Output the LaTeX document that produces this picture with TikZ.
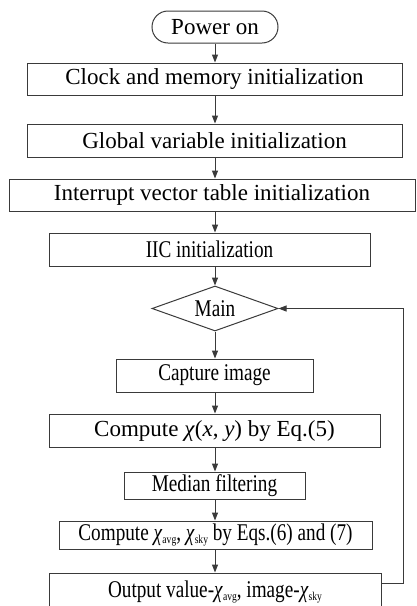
\documentclass[tikz,border=0pt]{standalone}
\usepackage{fontspec}
\setmainfont{Liberation Serif}
\newfontfamily\narrowfont{Liberation Serif}[FakeStretch=0.8]
\definecolor{lineclr}{HTML}{3A3A3A}
\usetikzlibrary{arrows.meta,positioning,shapes.geometric}
\newcommand{\chisub}[1]{\textit{χ}\raisebox{-3.5pt}{\fontsize{12}{12}\selectfont #1}}

\begin{document}
\begin{tikzpicture}[x=1pt, y=-1pt, >={Triangle[length=8pt,width=6pt]},
    font=\fontsize{23}{27}\selectfont,
    proc/.style={draw=lineclr, line width=1pt, inner sep=0pt, minimum height=33pt},
    narrow/.style={proc, font=\narrowfont\fontsize{24}{28}\selectfont},
    terminal/.style={proc, rounded corners=16pt, minimum height=32pt},
    decision/.style={draw=lineclr, line width=1pt, diamond, inner sep=0pt, aspect=2.8,
                     minimum width=126pt, minimum height=45pt,
                     font=\narrowfont\fontsize{24}{28}\selectfont},
    arrow/.style={->, draw=lineclr, line width=1pt}]

  \useasboundingbox (0,0) rectangle (416,606);

  \node[terminal, minimum width=126pt] (power) at (215,27) {Power on};
  \node[proc, minimum width=375pt, minimum height=32pt] (clock) at (214.5,79) {Clock and memory initialization};
  \node[proc, minimum width=375pt] (global) at (214.5,140.5) {Global variable initialization};
  \node[proc, minimum width=406pt, minimum height=32pt] (interrupt) at (212,195) {Interrupt vector table initialization};
  \node[narrow, minimum width=321pt] (iic) at (209.5,249.5) {IIC initialization};
  \node[decision] (main) at (215,308.5) {Main};
  \node[narrow, minimum width=197pt] (capture) at (214.5,375.5) {Capture image};
  \node[proc, minimum width=331pt] (chimap) at (214.5,430.5) {Compute \textit{χ}(\textit{x}, \textit{y}) by Eq.(5)};
  \node[narrow, minimum width=181pt, minimum height=27pt] (median) at (214.5,485.5) {Median filtering};
  \node[narrow, minimum width=313pt, minimum height=28pt] (avgsky) at (215.5,535) {Compute \chisub{avg}, \chisub{sky} by Eqs.(6) and (7)};
  \node[narrow, minimum width=332pt, minimum height=38pt] (output) at (215,592) {Output value-\chisub{avg}, image-\chisub{sky}};
  \coordinate (fbstart) at (381,583);

  \draw[arrow] (power.south) -- (clock.north -| power);
  \draw[arrow] (clock.south -| power) -- (global.north -| power);
  \draw[arrow] (global.south -| power) -- (interrupt.north -| power);
  \draw[arrow] (interrupt.south -| power) -- (iic.north -| power);
  \draw[arrow] (iic.south -| power) -- (main.north);
  \draw[arrow] (main.south) -- (capture.north -| main);
  \draw[arrow] (capture.south -| main) -- (chimap.north -| main);
  \draw[arrow] (chimap.south -| main) -- (median.north -| main);
  \draw[arrow] (median.south -| main) -- (avgsky.north -| main);
  \draw[arrow] (avgsky.south -| main) -- (output.north -| main);
  \draw[arrow] (fbstart) -- ++(22,0) |- (main.east);
\end{tikzpicture}
\end{document}
